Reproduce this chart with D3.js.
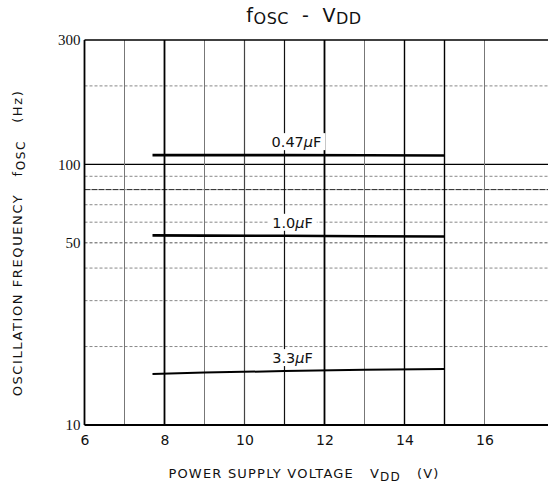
<!DOCTYPE html>
<html><head><meta charset="utf-8">
<script src="https://cdn.jsdelivr.net/npm/d3@7"></script>
<style>body{margin:0;background:#fff}svg{display:block}text{white-space:pre}</style>
</head><body>
<svg id="c" width="548" height="492"></svg>
<script>
const xTicks = [6, 8, 10, 12, 14, 16];
const yTicks = [10, 50, 100, 300];
const gridX = [7, 8, 9, 10, 11, 12, 13, 14, 15, 16];
const gridY = [20, 30, 40, 50, 60, 70, 80, 90, 100, 200];
const voltage = [7.7, 9, 11, 13, 15];
const cap047 = [108.5, 108.5, 108.5, 108.4, 108.2];
const cap10 = [53.4, 53.3, 53.2, 53.0, 52.9];
const cap33 = [15.7, 15.9, 16.1, 16.3, 16.4];
const seriesPrefix = ["0.47", "1.0", "3.3"];
const labelPos = [[11.3, 108.5], [11.2, 53.2], [11.2, 16.1]];

const svg = d3.select("#c");
const x = d3.scaleLinear().domain([6, 17.6]).range([84.5, 548.5]);
const y = d3.scaleLog().domain([10, 300]).range([425, 40]);
const SANS = "DejaVu Sans, Liberation Sans, sans-serif";

const g = svg.append("g");
const hStyle = v => (v === 100 ? {c:"#000", w:1.2, d:null} :
  v === 80 ? {c:"#222", w:1, d:"6,1"} :
  v === 50 ? {c:"#555", w:1, d:"3,2"} : {c:"#888", w:1, d:"3,2"});
gridY.forEach(v => {
  const s = hStyle(v);
  g.append("line").attr("x1", x(6)).attr("x2", 548).attr("y1", y(v)).attr("y2", y(v))
    .attr("stroke", s.c).attr("stroke-width", s.w).attr("stroke-dasharray", s.d);
});
const vStyle = v => ([8, 12].includes(v) ? {c:"#000", w:1.8} :
  [14, 15].includes(v) ? {c:"#000", w:1.4} :
  v === 11 ? {c:"#111", w:1.2} :
  v === 10 ? {c:"#444", w:1.2} : {c:"#777", w:1});
gridX.forEach(v => {
  const s = vStyle(v);
  g.append("line").attr("x1", x(v)).attr("x2", x(v)).attr("y1", y(300)).attr("y2", y(10))
    .attr("stroke", s.c).attr("stroke-width", s.w);
});
g.append("line").attr("x1", x(6)).attr("x2", 548).attr("y1", y(300)).attr("y2", y(300)).attr("stroke", "#000").attr("stroke-width", 1.3);
g.append("line").attr("x1", x(6)).attr("x2", 548).attr("y1", y(10)).attr("y2", y(10)).attr("stroke", "#000").attr("stroke-width", 2);
g.append("line").attr("x1", x(6)).attr("x2", x(6)).attr("y1", y(300)).attr("y2", y(10)).attr("stroke", "#000").attr("stroke-width", 1.8);

seriesPrefix.forEach((n, i) => {
  const t = svg.append("text").attr("x", x(labelPos[i][0])).attr("y", y(labelPos[i][1]) - 8)
    .attr("text-anchor", "middle").attr("font-family", SANS)
    .attr("font-size", 14.5).attr("fill", "#111");
  t.append("tspan").text(n);
  t.append("tspan").attr("font-style", "italic").text("\u03bc");
  t.append("tspan").text("F");
  const b = t.node().getBBox();
  svg.insert("rect", "text").attr("x", b.x - 4).attr("y", b.y - 1).attr("width", b.width + 8)
    .attr("height", b.height + 1).attr("fill", "#fff");
});

const line = d3.line().x((d, i) => x(voltage[i])).y(d => y(d));
[cap047, cap10, cap33].forEach((s, i) => {
  svg.append("path").attr("d", line(s)).attr("fill", "none").attr("stroke", "#000")
    .attr("stroke-width", i === 2 ? 2 : 2.6);
});

const xa = d3.axisBottom(x).tickValues(xTicks).tickSize(0).tickPadding(10).tickFormat(d3.format("d"));
const gx = svg.append("g").attr("transform", `translate(0,${y(10)})`).call(xa);
gx.select(".domain").remove();
gx.selectAll("text").attr("font-family", SANS).attr("font-size", 14).attr("fill", "#111");
const ya = d3.axisLeft(y).tickValues(yTicks).tickSize(0).tickPadding(4).tickFormat(d3.format("d"));
const gy = svg.append("g").attr("transform", `translate(${x(6)},0)`).call(ya);
gy.select(".domain").remove();
gy.selectAll("text").attr("font-family", "Liberation Serif, Times New Roman, serif").attr("font-size", 15).attr("fill", "#111");

const title = svg.append("text").attr("x", 304).attr("y", 22).attr("text-anchor", "middle")
  .attr("font-family", SANS).attr("font-size", 19).attr("fill", "#111").attr("letter-spacing", 0.5);
title.append("tspan").text("f");
title.append("tspan").attr("font-size", 16).attr("dy", 2).text("OSC");
title.append("tspan").attr("dy", -2).text("  -  V");
title.append("tspan").attr("font-size", 16).attr("dy", 2).text("DD");

const xl = svg.append("text").attr("x", 304).attr("y", 478).attr("text-anchor", "middle")
  .attr("font-family", SANS).attr("font-size", 13).attr("fill", "#111")
  .attr("letter-spacing", 1.2);
xl.append("tspan").text("POWER SUPPLY VOLTAGE   V");
xl.append("tspan").attr("font-size", 12).attr("dy", 3).text("DD");
xl.append("tspan").attr("dy", -3).text("   (V)");

const yl = svg.append("text").attr("transform", "translate(22,243) rotate(-90)").attr("text-anchor", "middle")
  .attr("font-family", SANS).attr("font-size", 13).attr("fill", "#111")
  .attr("letter-spacing", 1.6);
yl.append("tspan").text("OSCILLATION FREQUENCY   f");
yl.append("tspan").attr("font-size", 12).attr("dy", 3).text("OSC");
yl.append("tspan").attr("dy", -3).text("   (Hz)");
</script>
</body></html>
